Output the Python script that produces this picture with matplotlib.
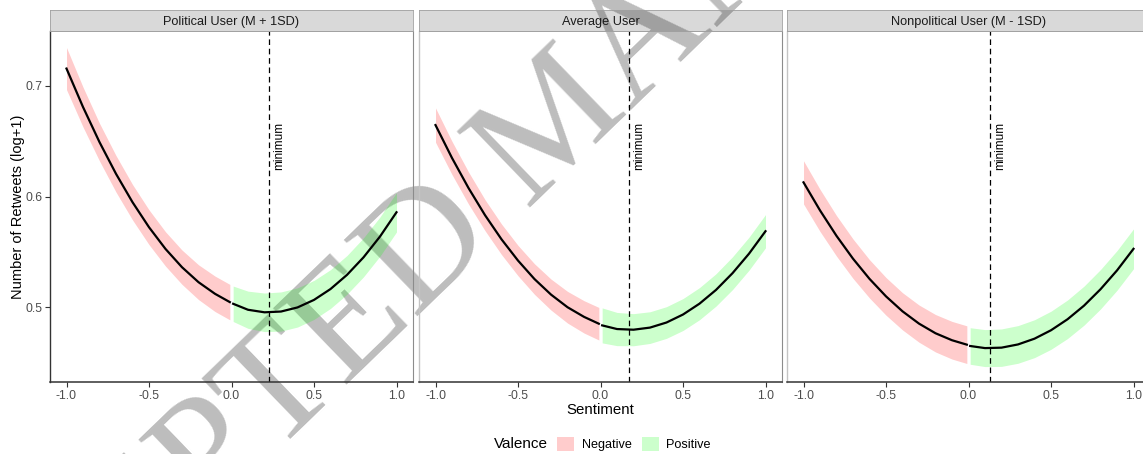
import matplotlib
matplotlib.use("Agg")
import matplotlib.pyplot as plt
from matplotlib.patches import Patch
import numpy as np

plt.rcParams['font.family'] = ['Liberation Sans', 'DejaVu Sans']

panels = ["Political User (M + 1SD)", "Average User", "Nonpolitical User (M - 1SD)"]

x_neg = [-1.0, -0.9, -0.8, -0.7, -0.6, -0.5, -0.4, -0.3, -0.2, -0.1, -0.01]
x_pos = [0.01, 0.1, 0.2, 0.3, 0.4, 0.5, 0.6, 0.7, 0.8, 0.9, 1.0]

# fitted values
fit_neg = [
    [0.7156, 0.6809, 0.6492, 0.6206, 0.5950, 0.5724, 0.5528, 0.5363, 0.5228, 0.5123, 0.5048],
    [0.6646, 0.6349, 0.6078, 0.5833, 0.5615, 0.5423, 0.5256, 0.5116, 0.5002, 0.4915, 0.4853],
    [0.6129, 0.5876, 0.5646, 0.5440, 0.5258, 0.5100, 0.4965, 0.4854, 0.4767, 0.4704, 0.4664],
]
fit_pos = [
    [0.5033, 0.4979, 0.4956, 0.4963, 0.5000, 0.5068, 0.5166, 0.5294, 0.5452, 0.5640, 0.5859],
    [0.4838, 0.4805, 0.4799, 0.4818, 0.4864, 0.4936, 0.5034, 0.5158, 0.5309, 0.5485, 0.5688],
    [0.4652, 0.4633, 0.4637, 0.4666, 0.4718, 0.4794, 0.4893, 0.5016, 0.5164, 0.5334, 0.5529],
]
# half width of the confidence band
ci_neg = [
    [0.019, 0.018, 0.017, 0.0165, 0.016, 0.0157, 0.0155, 0.0155, 0.0157, 0.016, 0.016],
    [0.0155, 0.015, 0.0145, 0.014, 0.0138, 0.0137, 0.0138, 0.014, 0.0143, 0.0146, 0.0147],
    [0.0195, 0.019, 0.0183, 0.0178, 0.0173, 0.017, 0.0168, 0.0168, 0.0169, 0.017, 0.017],
]
ci_pos = [
    [0.016, 0.0168, 0.0174, 0.0177, 0.0177, 0.0176, 0.0175, 0.0175, 0.0176, 0.0177, 0.0178],
    [0.0158, 0.015, 0.0145, 0.0143, 0.0143, 0.0144, 0.0145, 0.0146, 0.0148, 0.0149, 0.015],
    [0.0165, 0.0167, 0.0169, 0.017, 0.0171, 0.0172, 0.0174, 0.0176, 0.0178, 0.0179, 0.018],
]
minimum_x = [0.226, 0.175, 0.131]

neg_col = (1.0, 0.0, 0.0, 0.2)
pos_col = (0.0, 1.0, 0.0, 0.2)

W, H = 1143, 454
fig = plt.figure(figsize=(W / 100, H / 100), dpi=100)

# watermark, drawn under the (transparent) panels
fig.text(560 / W, 1 - 125 / H, "ACCEPTED MANUSCRIPT", rotation=44, rotation_mode='anchor',
         ha='center', va='center', fontsize=116, family='Liberation Serif',
         color='#bdbdbd', zorder=-5)

lefts = [50, 419, 787]
pw = 363
top, bottom = 31, 382

for i, name in enumerate(panels):
    ax = fig.add_axes([lefts[i] / W, 1 - bottom / H, pw / W, (bottom - top) / H])
    ax.set_facecolor('none')

    ax.fill_between(x_neg, np.array(fit_neg[i]) - ci_neg[i], np.array(fit_neg[i]) + ci_neg[i],
                    color=neg_col, lw=0)
    ax.fill_between(x_pos, np.array(fit_pos[i]) - ci_pos[i], np.array(fit_pos[i]) + ci_pos[i],
                    color=pos_col, lw=0)
    ax.plot(x_neg, fit_neg[i], color='black', lw=1.6)
    ax.plot(x_pos, fit_pos[i], color='black', lw=1.6)

    ax.axvline(minimum_x[i], color='black', lw=0.9, dashes=(4.5, 3))
    ax.text(minimum_x[i] + 0.06, 0.646, "minimum", rotation=90, ha='center', va='center',
            fontsize=8.5, color='black')

    ax.set_xlim(-1.1, 1.1)
    ax.set_ylim(0.4327, 0.7495)
    ax.set_xticks([-1.0, -0.5, 0.0, 0.5, 1.0])
    ax.set_xticklabels(["-1.0", "-0.5", "0.0", "0.5", "1.0"])
    ax.tick_params(axis='x', length=3.5, width=0.8, color='#333333', labelsize=8.8,
                   labelcolor='#4D4D4D', pad=2)
    if i == 0:
        ax.set_yticks([0.5, 0.6, 0.7])
        ax.set_yticklabels(["0.5", "0.6", "0.7"])
        ax.tick_params(axis='y', length=3.5, width=0.8, color='#333333', labelsize=8.8,
                       labelcolor='#4D4D4D', pad=2)
        ax.spines['left'].set_color('#333333')
        ax.set_ylabel("Number of Retweets (log+1)", fontsize=10.5, labelpad=0)
    else:
        ax.set_yticks([])
        ax.spines['left'].set_color('#c4c4c4')
    ax.spines['bottom'].set_color('#333333')
    ax.spines['bottom'].set_linewidth(1.1)
    ax.spines['left'].set_linewidth(1.0)
    ax.spines['right'].set_color('#8c8c8c')
    ax.spines['top'].set_color('#a0a0a0')
    ax.spines['top'].set_linewidth(0.6)
    if i == 1:
        ax.set_xlabel("Sentiment", fontsize=10.8, labelpad=1)

    # facet strip
    sax = fig.add_axes([lefts[i] / W, 1 - top / H, pw / W, 21 / H])
    sax.set_facecolor((0, 0, 0, 0.15))
    sax.set_xticks([])
    sax.set_yticks([])
    for s in sax.spines.values():
        s.set_color('#a0a0a0')
        s.set_linewidth(0.6)
    sax.text(0.5, 0.45, name, ha='center', va='center', fontsize=9.2, color='#1A1A1A',
             transform=sax.transAxes)

# legend at the bottom
fig.text(548 / W, 1 - 444 / H, "Valence", ha='right', va='center', fontsize=11)
handles = [Patch(facecolor=neg_col, edgecolor='none', label='Negative'),
           Patch(facecolor=pos_col, edgecolor='none', label='Positive')]
fig.legend(handles=handles, loc='center', bbox_to_anchor=(634 / W, 1 - 444 / H), ncol=2,
           frameon=False, fontsize=9.1, handlelength=1.35, handleheight=1.4,
           handletextpad=0.6, columnspacing=0.8, borderpad=0, borderaxespad=0)

fig.savefig("out.png", dpi=100)
